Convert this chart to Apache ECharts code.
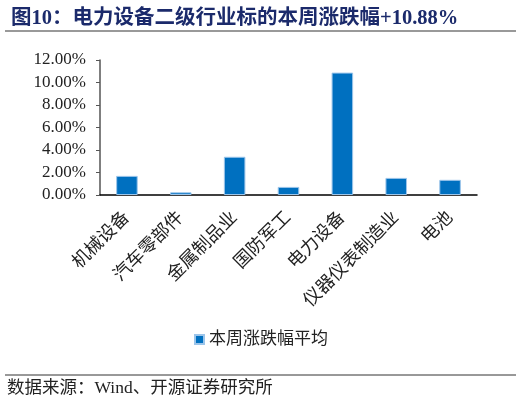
<!DOCTYPE html>
<html>
<head>
<meta charset="utf-8">
<script src="https://cdn.jsdelivr.net/npm/echarts@6/dist/echarts.min.js"></script>
<style>
    html, body { margin: 0; padding: 0; background: #fff; }
    #chart { width: 522px; height: 405px; }
</style>
</head>
<body>
<div id="chart"></div>
<script>
var categories = ['机械设备', '汽车零部件', '金属制品业', '国防军工', '电力设备', '仪器仪表制造业', '电池'];
var weeklyChange = [1.70, 0.24, 3.40, 0.72, 10.88, 1.52, 1.35];
var seriesName = '本周涨跌幅平均';

var cjk = '"Liberation Serif", "Noto Sans CJK SC", serif';

var chart = echarts.init(document.getElementById('chart'));

var option = {
    animation: false,
    title: {
        text: '图10：电力设备二级行业标的本周涨跌幅+10.88%',
        left: 6,
        top: 3,
        textStyle: {
            color: '#1b2a6b',
            fontSize: 20.5,
            fontWeight: 'bold',
            fontFamily: cjk
        }
    },
    graphic: [
        {
            type: 'line',
            shape: { x1: 5, y1: 31, x2: 516, y2: 31 },
            style: { stroke: '#777', lineWidth: 1.5 }
        },
        {
            type: 'line',
            shape: { x1: 5, y1: 375, x2: 516, y2: 375 },
            style: { stroke: '#333', lineWidth: 1 }
        },
        {
            type: 'text',
            left: 7,
            top: 380,
            style: {
                text: '数据来源：Wind、开源证券研究所',
                fill: '#222',
                font: '17.5px "Liberation Serif", "Noto Sans CJK SC", serif'
            }
        }
    ],
    legend: {
        data: [seriesName],
        bottom: 52,
        left: 'center',
        icon: 'rect',
        itemWidth: 9,
        itemHeight: 9,
        textStyle: {
            color: '#222',
            fontSize: 17,
            fontFamily: cjk
        }
    },
    grid: {
        left: 100,
        right: 45,
        top: 60,
        bottom: 210
    },
    xAxis: {
        type: 'category',
        data: categories,
        axisLine: { lineStyle: { color: '#000', width: 1.5 } },
        axisTick: {
            inside: true,
            length: 5,
            lineStyle: { color: '#777', width: 1.5 }
        },
        axisLabel: {
            rotate: 45,
            margin: 20,
            color: '#222',
            fontSize: 18,
            fontFamily: cjk
        }
    },
    yAxis: {
        type: 'value',
        min: 0,
        max: 12,
        interval: 2,
        splitLine: { show: false },
        axisLine: { show: true, lineStyle: { color: '#555', width: 1.5 } },
        axisTick: { show: true, length: 4, lineStyle: { color: '#555' } },
        axisLabel: {
            margin: 14,
            color: '#222',
            fontSize: 17,
            fontFamily: '"Liberation Serif", serif',
            formatter: function (v) { return v.toFixed(2) + '%'; }
        }
    },
    series: [{
        name: seriesName,
        type: 'bar',
        data: weeklyChange,
        barWidth: '40%',
        itemStyle: {
            color: '#0070c0',
            borderColor: '#9cc5ea',
            borderWidth: 1
        }
    }]
};

chart.setOption(option);

window.addEventListener('resize', function () {
    chart.resize();
});
</script>
</body>
</html>
